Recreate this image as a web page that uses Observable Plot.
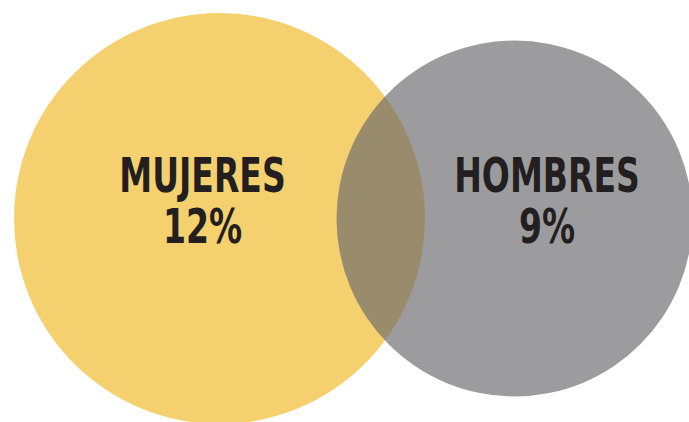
<!DOCTYPE html>
<html>
<head>
<meta charset="utf-8">
<script src="https://cdn.jsdelivr.net/npm/d3@7"></script>
<script src="https://cdn.jsdelivr.net/npm/@observablehq/plot@0.6"></script>
<style>
  html, body { margin: 0; padding: 0; background: #ffffff; }
  #chart svg { display: block; }
</style>
</head>
<body>
<div id="chart"></div>
<script>
const categories = ["MUJERES", "HOMBRES"];
const percents = [12, 9];
const percentLabels = ["12%", "9%"];

const data = categories.map((c, i) => ({ category: c, percent: percents[i], label: percentLabels[i] }));
const mujeres = data.filter(d => d.category === "MUJERES");
const hombres = data.filter(d => d.category === "HOMBRES");

const font = "'Liberation Sans Narrow', 'DejaVu Sans Condensed', 'Arial Narrow', sans-serif";
const ink = "#231F20";

const textOpts = (dx) => ({
  x: "category", fontFamily: font, fontWeight: "bold", fontSize: 48,
  fill: ink, textAnchor: "middle", lineAnchor: "bottom", dx
});

const chart = Plot.plot({
  width: 689,
  height: 422,
  marginTop: 14, marginBottom: 0, marginLeft: 0, marginRight: 0,
  x: { type: "point", domain: categories, range: [218.5, 514], padding: 0, axis: null },
  r: { type: "sqrt", domain: [0, 12], range: [0, 205.5] },
  marks: [
    Plot.dot(mujeres, { x: "category", r: "percent", fill: "#F4D06F", stroke: null }),
    Plot.dot(hombres, { x: "category", r: "percent", fill: "#67676A", fillOpacity: 0.65, stroke: null }),
    Plot.text(mujeres, { ...textOpts(-17), text: "category", dy: -27 }),
    Plot.text(mujeres, { ...textOpts(-17), text: "label", dy: 24 }),
    Plot.text(hombres, { ...textOpts(32.5), text: "category", dy: -27 }),
    Plot.text(hombres, { ...textOpts(32.5), text: "label", dy: 24 })
  ]
});
document.getElementById("chart").appendChild(chart);

// Condense the glyphs horizontally to mimic a condensed bold face
chart.querySelectorAll("text").forEach(t => {
  const len = t.getComputedTextLength();
  if (len > 0) {
    t.setAttribute("textLength", (len * 0.765).toFixed(1));
    t.setAttribute("lengthAdjust", "spacingAndGlyphs");
  }
});
</script>
</body>
</html>
